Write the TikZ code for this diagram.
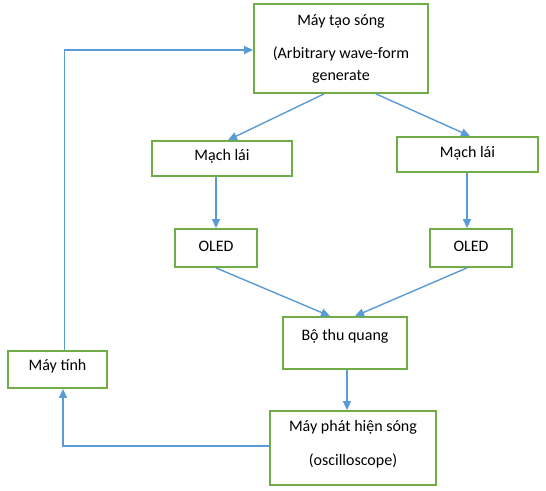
\documentclass[tikz,border=0pt]{standalone}
\usepackage{fontspec}
\setmainfont{Carlito}
\usetikzlibrary{arrows.meta}
\definecolor{boxgreen}{RGB}{112,173,71}
\definecolor{arrowblue}{RGB}{91,155,213}
\begin{document}
\begin{tikzpicture}[x=1pt,y=-1pt,
  box/.style={draw=boxgreen, line width=1.8pt, inner sep=0pt},
  lbl/.style={font=\fontsize{16}{19}\selectfont, inner sep=0pt, text height=11pt, text depth=3.5pt},
  conn/.style={draw=arrowblue, line width=1.4pt, -{Triangle[length=9pt,width=8pt]}}]
\useasboundingbox (0,0) rectangle (546,490);
% boxes
\node[box, minimum width=174pt, minimum height=89pt] (gen) at (341,48.5) {};
\node[box, minimum width=140pt, minimum height=35pt] (drvL) at (222,158.5) {};
\node[box, minimum width=141pt, minimum height=35pt] (drvR) at (467.5,154.5) {};
\node[box, minimum width=82pt, minimum height=38pt] (oledL) at (216,248) {};
\node[box, minimum width=82pt, minimum height=38pt] (oledR) at (471,248) {};
\node[box, minimum width=124pt, minimum height=52pt] (rx) at (345,343) {};
\node[box, minimum width=166pt, minimum height=74pt] (osc) at (353,448) {};
\node[box, minimum width=99pt, minimum height=37pt] (pc) at (57.5,369.5) {};
% labels
\node[lbl] (genA) at (341,22) {Máy tạo sóng};
\node[lbl] (genB) at (341,55) {(Arbitrary wave-form};
\node[lbl] (genC) at (341,77) {generate};
\node[lbl] (drvLt) at (222,157) {Mạch lái};
\node[lbl] (drvRt) at (467.5,154) {Mạch lái};
\node[lbl] (oledLt) at (216,248) {OLED};
\node[lbl] (oledRt) at (471,248) {OLED};
\node[lbl] (rxt) at (345,337) {Bộ thu quang};
\node[lbl] (oscA) at (353,428) {Máy phát hiện sóng};
\node[lbl] (oscB) at (353,462) {(oscilloscope)};
\node[lbl] (pct) at (57.5,367) {Máy tính};
% connectors
\draw[conn] ([xshift=-17pt]gen.south) -- ([xshift=6pt]drvL.north);
\draw[conn] ([xshift=35pt]gen.south) -- ([xshift=2.5pt]drvR.north);
\draw[conn] (oledL.north |- drvL.south) -- (oledL.north);
\draw[conn] ([xshift=-4pt]oledR.north |- drvR.south) -- ([xshift=-4pt]oledR.north);
\draw[conn] (oledL.south) -- ([xshift=-15pt]rx.north);
\draw[conn] ([xshift=-4pt]oledR.south) -- ([xshift=10pt]rx.north);
\draw[conn] ([xshift=2pt]rx.south) -- ([xshift=2pt]rx.south |- osc.north);
\draw[conn] ([yshift=2pt]osc.west) -| ([xshift=5.5pt]pc.south);
\draw[conn] ([xshift=7pt]pc.north) |- ([yshift=-1.5pt]gen.west);
\end{tikzpicture}
\end{document}
